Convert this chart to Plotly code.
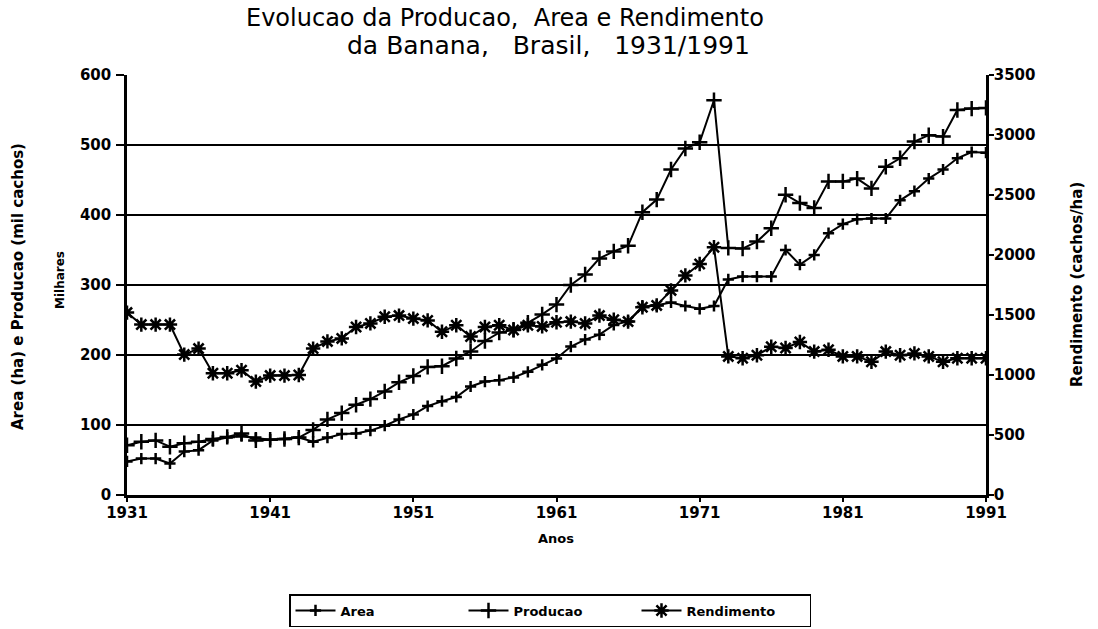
import plotly.graph_objects as go

years = list(range(1931, 1992))

area = [48, 52, 52, 45, 62, 64, 78, 82, 84, 82,
        79, 80, 82, 76, 82, 87, 88, 92, 99, 108,
        115, 127, 134, 140, 155, 162, 164, 168, 176, 186,
        195, 212, 222, 229, 243, 248, 269, 271, 275, 270,
        266, 270, 308, 312, 312, 312, 350, 329, 343, 374,
        387, 394, 395, 395, 421, 434, 452, 465, 481, 490,
        489]

producao = [71, 76, 78, 69, 74, 76, 80, 83, 88, 78,
            79, 80, 82, 93, 108, 117, 129, 137, 148, 161,
            170, 183, 184, 195, 205, 220, 232, 236, 246, 258,
            272, 300, 315, 338, 348, 356, 404, 422, 465, 495,
            504, 564, 353, 352, 362, 381, 429, 417, 410, 448,
            448, 452, 438, 469, 481, 505, 514, 512, 550, 552,
            553]

rendimento = [1520, 1420, 1420, 1420, 1170, 1220, 1015, 1015, 1040, 945,
              995, 995, 1000, 1220, 1280, 1305, 1400, 1430, 1485, 1495,
              1470, 1455, 1360, 1415, 1320, 1400, 1415, 1375, 1415, 1405,
              1440, 1445, 1430, 1495, 1460, 1445, 1565, 1580, 1705, 1830,
              1925, 2065, 1155, 1140, 1165, 1235, 1225, 1275, 1195, 1210,
              1155, 1155, 1110, 1195, 1165, 1180, 1155, 1110, 1140, 1140,
              1140]

x_ticks = [1931, 1941, 1951, 1961, 1971, 1981, 1991]
left_ticks = [0, 100, 200, 300, 400, 500, 600]
right_ticks = [0, 500, 1000, 1500, 2000, 2500, 3000, 3500]

FONT = "DejaVu Sans"
BLACK = "#000000"

# plot area in page pixels (body margin is removed below)
PX0, PX1, PY_TOP, PY_BOT = 127, 986, 75, 495
PW, PH = PX1 - PX0, PY_BOT - PY_TOP


def px(x):
    return (x - PX0) / PW


def py(y):
    return (PY_BOT - y) / PH


fig = go.Figure()
fig.add_trace(go.Scatter(
    x=years, y=area, name="Area", mode="lines+markers",
    line=dict(color=BLACK, width=2),
    marker=dict(symbol="cross-thin", size=8, color=BLACK,
                line=dict(color=BLACK, width=2.5)),
))
fig.add_trace(go.Scatter(
    x=years, y=producao, name="Producao", mode="lines+markers",
    line=dict(color=BLACK, width=2),
    marker=dict(symbol="cross-thin", size=11, color=BLACK,
                line=dict(color=BLACK, width=2.5)),
))
fig.add_trace(go.Scatter(
    x=years, y=rendimento, name="Rendimento", mode="lines+markers",
    yaxis="y2",
    line=dict(color=BLACK, width=2),
    marker=dict(symbol="asterisk", size=12, color=BLACK,
                line=dict(color=BLACK, width=2.5)),
))

tickfont = dict(family=FONT, size=15, color=BLACK, weight="bold")

W, H = 1098, 629

fig.update_layout(
    width=W, height=H,
    margin=dict(l=PX0, r=W - PX1, t=PY_TOP, b=H - PY_BOT, autoexpand=False),
    paper_bgcolor="white", plot_bgcolor="white",
    showlegend=True,
    legend=dict(
        orientation="h", x=px(550), xanchor="center", y=py(594), yanchor="top",
        bordercolor=BLACK, borderwidth=1.5, bgcolor="white",
        font=dict(family=FONT, size=13, color=BLACK, weight="bold"),
        entrywidth=118, itemwidth=40, tracegroupgap=0,
    ),
    xaxis=dict(
        range=[1931, 1991], tickvals=x_ticks, ticktext=[str(v) for v in x_ticks],
        showgrid=False, zeroline=False,
        showline=True, linecolor=BLACK, linewidth=2.5,
        ticks="outside", ticklen=4, tickwidth=2, tickcolor=BLACK,
        ticklabelstandoff=-2,
        tickfont=tickfont,
    ),
    yaxis=dict(
        range=[0, 600], tickvals=left_ticks,
        showgrid=True, gridcolor=BLACK, gridwidth=1.5,
        zeroline=False,
        showline=True, linecolor=BLACK, linewidth=2.5,
        ticks="outside", ticklen=8, tickwidth=2, tickcolor=BLACK,
        ticklabelstandoff=2,
        tickfont=tickfont,
    ),
    yaxis2=dict(
        range=[0, 3500], tickvals=right_ticks, overlaying="y", side="right",
        showgrid=False, zeroline=False,
        showline=True, linecolor=BLACK, linewidth=2.5,
        ticks="outside", ticklen=5, tickwidth=2, tickcolor=BLACK,
        ticklabelstandoff=-3,
        tickfont=tickfont,
    ),
    annotations=[
        dict(text="Evolucao da Producao,  Area e Rendimento", xref="paper", yref="paper",
             x=px(505), y=py(17.5), xanchor="center", yanchor="middle",
             showarrow=False, font=dict(family=FONT, size=24, color=BLACK)),
        dict(text="da Banana,   Brasil,   1931/1991", xref="paper", yref="paper",
             x=px(548), y=py(45), xanchor="center", yanchor="middle",
             showarrow=False, font=dict(family=FONT, size=25, color=BLACK)),
        dict(text="Anos", xref="paper", yref="paper",
             x=px(556), y=py(538), xanchor="center", yanchor="middle",
             showarrow=False, font=dict(family=FONT, size=13, color=BLACK, weight="bold")),
        dict(text="Area (ha) e Producao (mil cachos)", xref="paper", yref="paper",
             x=px(18), y=py(287), xanchor="center", yanchor="middle",
             textangle=-90, showarrow=False,
             font=dict(family=FONT, size=15, color=BLACK, weight="bold")),
        dict(text="Milhares", xref="paper", yref="paper",
             x=px(60), y=py(280), xanchor="center", yanchor="middle",
             textangle=-90, showarrow=False,
             font=dict(family=FONT, size=12, color=BLACK, weight="bold")),
        dict(text="Rendimento (cachos/ha)", xref="paper", yref="paper",
             x=px(1077), y=py(285), xanchor="center", yanchor="middle",
             textangle=-90, showarrow=False,
             font=dict(family=FONT, size=15, color=BLACK, weight="bold")),
    ],
)

fig.write_html("out.html",
               config={"displayModeBar": False},
               post_script="document.body.style.margin='0px';document.body.style.padding='0px';")
